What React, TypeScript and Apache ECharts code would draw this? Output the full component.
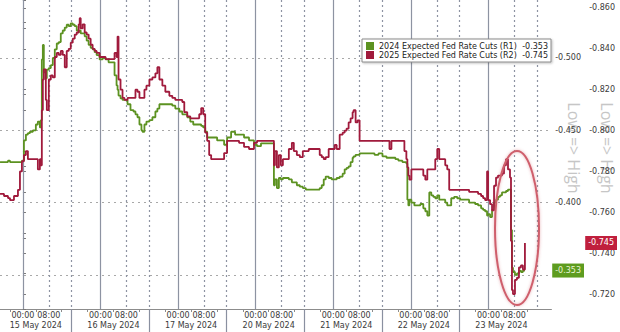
import React, { useEffect, useRef } from 'react';
import * as echarts from 'echarts';

// ---- data -------------------------------------------------------------
const dateLabels = ['15 May 2024', '16 May 2024', '17 May 2024', '20 May 2024', '21 May 2024', '22 May 2024', '23 May 2024'];
const timeLabels = ['00:00', '08:00'];
const seriesNames = ['2024 Expected Fed Rate Cuts (R1)', '2025 Expected Fed Rate Cuts (R2)'];

// trading hours since 15 May 00:00 (weekend removed, 24h per trading day)
const hours = [
  -7.08, -5.85, -4.62, -4.0, -2.77, -1.54, -0.92, -0.31, 0.31, 0.92,
  1.54, 2.16, 3.08, 4.0, 4.62, 5.24, 5.55, 5.85, 6.16, 6.47,
  7.08, 7.39, 8.01, 8.63, 9.24, 9.86, 10.47, 11.09, 11.71, 12.32,
  12.94, 13.55, 14.17, 14.79, 15.4, 16.02, 16.64, 17.25, 17.56, 17.87,
  18.48, 19.1, 19.72, 20.33, 20.95, 21.56, 22.18, 22.8, 23.72, 24.65,
  25.57, 26.49, 27.42, 28.34, 28.96, 29.27, 29.57, 30.19, 30.81, 31.42,
  32.35, 33.27, 34.2, 34.81, 35.43, 36.04, 36.66, 36.97, 37.58, 38.2,
  39.12, 40.05, 40.97, 41.59, 42.21, 43.13, 44.05, 45.29, 46.21, 47.13,
  48.37, 49.29, 49.91, 50.83, 51.76, 52.68, 53.6, 54.53, 55.14, 55.76,
  56.38, 56.99, 57.61, 58.22, 59.15, 60.07, 61.31, 62.23, 63.15, 64.39,
  65.62, 66.85, 68.39, 69.93, 71.47, 72.4, 73.63, 74.86, 76.09, 77.02,
  77.63, 77.94, 78.56, 79.17, 79.79, 80.41, 81.33, 82.25, 83.18, 83.79,
  84.72, 85.64, 86.57, 87.49, 88.41, 89.64, 90.88, 91.8, 92.42, 93.04,
  93.65, 94.57, 95.5, 96.42, 97.04, 97.97, 98.89, 99.51, 100.12, 100.74,
  101.35, 101.97, 102.28, 102.9, 103.51, 104.13, 105.05, 106.28, 107.52, 108.75,
  109.98, 111.21, 112.44, 113.37, 113.98, 115.22, 116.14, 117.37, 117.99, 118.6,
  118.91, 119.22, 119.53, 120.15, 121.07, 121.99, 122.92, 123.84, 124.46, 125.08,
  125.69, 126.31, 126.92, 127.54, 128.16, 128.77, 129.7, 130.62, 131.24, 131.85,
  132.47, 133.39, 134.32, 135.24, 136.17, 137.09, 138.01, 138.94, 139.86, 140.79,
  141.71, 142.33, 142.94, 143.56, 143.87, 144.49, 145.1, 145.72, 146.33, 146.95,
  147.57, 148.18, 148.8, 149.42, 150.03, 150.65, 150.96, 151.26, 151.57, 152.19,
  152.8, 153.42, 154.04, 154.65, 155.27,
];

const cuts2024 = [
  -0.428, -0.428, -0.429, -0.428, -0.428, -0.428, -0.428, -0.429, -0.443, -0.447,
  -0.448, -0.449, -0.45, -0.454, -0.456, -0.452, -0.457, -0.499, -0.509, -0.49,
  -0.486, -0.492, -0.493, -0.495, -0.5, -0.506, -0.51, -0.511, -0.517, -0.519,
  -0.521, -0.523, -0.522, -0.524, -0.523, -0.522, -0.519, -0.518, -0.519, -0.517,
  -0.517, -0.515, -0.512, -0.509, -0.507, -0.506, -0.504, -0.502, -0.499, -0.5,
  -0.499, -0.497, -0.497, -0.488, -0.481, -0.478, -0.474, -0.472, -0.471, -0.471,
  -0.468, -0.464, -0.463, -0.461, -0.459, -0.454, -0.45, -0.449, -0.454, -0.456,
  -0.457, -0.459, -0.463, -0.465, -0.468, -0.468, -0.468, -0.468, -0.467, -0.465,
  -0.463, -0.461, -0.461, -0.459, -0.456, -0.454, -0.454, -0.454, -0.453, -0.452,
  -0.449, -0.445, -0.445, -0.445, -0.445, -0.443, -0.443, -0.44, -0.445, -0.449,
  -0.447, -0.447, -0.445, -0.443, -0.44, -0.439, -0.441, -0.441, -0.441, -0.441,
  -0.412, -0.416, -0.41, -0.417, -0.416, -0.417, -0.417, -0.416, -0.414, -0.414,
  -0.412, -0.411, -0.41, -0.409, -0.409, -0.409, -0.409, -0.41, -0.412, -0.416,
  -0.418, -0.417, -0.416, -0.416, -0.417, -0.418, -0.42, -0.423, -0.424, -0.425,
  -0.428, -0.431, -0.432, -0.433, -0.433, -0.434, -0.434, -0.434, -0.434, -0.433,
  -0.434, -0.432, -0.431, -0.431, -0.431, -0.43, -0.429, -0.428, -0.428, -0.427,
  -0.402, -0.398, -0.402, -0.4, -0.398, -0.398, -0.399, -0.396, -0.394, -0.391,
  -0.407, -0.405, -0.404, -0.403, -0.405, -0.402, -0.402, -0.4, -0.398, -0.398,
  -0.403, -0.404, -0.403, -0.402, -0.402, -0.402, -0.4, -0.4, -0.399, -0.398,
  -0.396, -0.395, -0.394, -0.391, -0.392, -0.39, -0.395, -0.4, -0.402, -0.404,
  -0.405, -0.407, -0.407, -0.408, -0.409, -0.409, -0.381, -0.355, -0.352, -0.35,
  -0.351, -0.353, -0.352, -0.353, -0.353,
];

const cuts2025 = [
  -0.769, -0.768, -0.767, -0.766, -0.768, -0.771, -0.78, -0.785, -0.788, -0.79,
  -0.786, -0.786, -0.786, -0.786, -0.781, -0.786, -0.783, -0.81, -0.825, -0.83,
  -0.815, -0.81, -0.825, -0.827, -0.826, -0.836, -0.838, -0.837, -0.839, -0.837,
  -0.831, -0.839, -0.84, -0.843, -0.845, -0.847, -0.848, -0.852, -0.855, -0.85,
  -0.852, -0.848, -0.847, -0.845, -0.842, -0.84, -0.839, -0.838, -0.836, -0.836,
  -0.835, -0.835, -0.835, -0.838, -0.836, -0.846, -0.825, -0.82, -0.816, -0.815,
  -0.816, -0.816, -0.816, -0.82, -0.819, -0.816, -0.816, -0.816, -0.82, -0.822,
  -0.825, -0.826, -0.828, -0.831, -0.825, -0.822, -0.819, -0.817, -0.816, -0.815,
  -0.815, -0.814, -0.809, -0.807, -0.806, -0.806, -0.806, -0.808, -0.811, -0.808,
  -0.799, -0.795, -0.788, -0.786, -0.786, -0.786, -0.786, -0.789, -0.795, -0.795,
  -0.795, -0.794, -0.792, -0.791, -0.794, -0.795, -0.795, -0.795, -0.795, -0.795,
  -0.783, -0.79, -0.782, -0.788, -0.783, -0.786, -0.786, -0.791, -0.794, -0.79,
  -0.788, -0.787, -0.79, -0.79, -0.791, -0.791, -0.791, -0.788, -0.787, -0.786,
  -0.787, -0.791, -0.791, -0.793, -0.791, -0.798, -0.799, -0.8, -0.801, -0.804,
  -0.806, -0.809, -0.81, -0.804, -0.805, -0.795, -0.795, -0.795, -0.795, -0.795,
  -0.795, -0.795, -0.795, -0.791, -0.795, -0.795, -0.795, -0.795, -0.79, -0.786,
  -0.782, -0.778, -0.776, -0.781, -0.781, -0.781, -0.781, -0.778, -0.776, -0.781,
  -0.781, -0.781, -0.781, -0.786, -0.791, -0.786, -0.786, -0.783, -0.781, -0.771,
  -0.771, -0.771, -0.771, -0.771, -0.771, -0.771, -0.77, -0.77, -0.77, -0.769,
  -0.768, -0.767, -0.766, -0.78, -0.766, -0.764, -0.761, -0.773, -0.777, -0.778,
  -0.778, -0.779, -0.783, -0.786, -0.781, -0.777, -0.746, -0.722, -0.72, -0.727,
  -0.728, -0.733, -0.734, -0.732, -0.745,
];

const r1GridValues = [-0.5, -0.45, -0.4, -0.35];

// ---- styling constants --------------------------------------------------
const FONT = '"DejaVu Sans", Verdana, sans-serif';
const GREEN = '#5c9221';
const RED = '#a01a3c';
const X_MIN = -7.09;
const X_MAX = 163.4;
const R1_MIN = -0.5401;
const R1_MAX = -0.3264;
const R2_MIN = -0.8639;
const R2_MAX = -0.7127;

export default function App() {
  const ref = useRef<HTMLDivElement>(null);

  useEffect(() => {
    if (!ref.current) return;
    const chart = echarts.init(ref.current, undefined, { renderer: 'svg' });

    const n = Math.min(hours.length, cuts2024.length, cuts2025.length);
    const greenData = [] as number[][];
    const redData = [] as number[][];
    for (let i = 0; i < n; i++) {
      greenData.push([hours[i], cuts2024[i]]);
      redData.push([hours[i], cuts2025[i]]);
    }
    const last2024 = cuts2024[n - 1];
    const last2025 = cuts2025[n - 1];
    const lastByName: Record<string, string> = {
      [seriesNames[0]]: last2024.toFixed(3),
      [seriesNames[1]]: last2025.toFixed(3),
    };

    const dayStarts = dateLabels.map((_, i) => i * 24);
    const labelHours: number[] = [];
    dayStarts.forEach((d) => labelHours.push(d, d + 8));
    const dateCenters = dayStarts.map((d) => d + 4);
    const separators = dayStarts.slice(0, -1).map((d) => d + 15);
    const intraday: number[] = [];
    dayStarts.forEach((d) => {
      if (d + 8 < X_MAX) intraday.push(d + 8);
      if (d + 15 < X_MAX) intraday.push(d + 15);
    });
    const tickHours: number[] = [];
    for (let h = -4; h <= X_MAX; h += 8) tickHours.push(h);

    const hLines = r1GridValues.map((v) => ({ yAxis: v, lineStyle: { color: '#a8a8a8', type: [2, 4], width: 1 } }));
    const midnightLines = dayStarts.map((d) => [
      { coord: [d, R2_MIN], lineStyle: { color: '#8d93a2', type: 'solid', width: 1.2 } },
      { coord: [d, R2_MAX] },
    ]);
    const intradayLines = intraday.map((h) => [
      { coord: [h, R2_MIN], lineStyle: { color: '#8d93a2', type: [2, 3], width: 1.2 } },
      { coord: [h, R2_MAX] },
    ]);

    const rightAxisBase = (offset: number, min: number, max: number, splitNumber: number, margin: number, tagValue: number, tagGap: number) => ({
      type: 'value',
      position: 'right',
      offset,
      min,
      max,
      inverse: true,
      splitNumber,
      axisLine: { show: true, lineStyle: { color: '#9a9a9a', width: 1 } },
      axisTick: { show: true, length: 3, lineStyle: { color: '#777' } },
      minorTick: { show: true, splitNumber: 2, length: 3, lineStyle: { color: '#777' } },
      axisLabel: {
        fontFamily: FONT,
        fontSize: 8,
        color: '#3a3a3a',
        margin,
        showMinLabel: false,
        showMaxLabel: false,
        formatter: (v: number) => (Math.abs(v - tagValue) < tagGap ? '' : v.toFixed(3)),
      },
      splitLine: { show: false },
    });

    const tagAxis = (offset: number, min: number, max: number, value: number, bg: string, fg: string) => ({
      type: 'value',
      position: 'right',
      offset,
      min,
      max,
      inverse: true,
      axisLine: { show: false },
      axisTick: { show: false },
      splitLine: { show: false },
      axisLabel: {
        customValues: [value],
        formatter: (v: number) => v.toFixed(3),
        fontFamily: FONT,
        fontSize: 8,
        color: fg,
        backgroundColor: bg,
        padding: [3, 3, 3, 3],
        margin: 1,
      },
    });

    const option: any = {
      animation: false,
      backgroundColor: '#ffffff',
      textStyle: { fontFamily: FONT },
      grid: { left: 0, right: 67, top: 0, bottom: 23, containLabel: false },
      legend: {
        left: 362,
        top: 39,
        orient: 'vertical',
        data: seriesNames,
        icon: 'rect',
        itemWidth: 8,
        itemHeight: 8,
        itemGap: 1,
        padding: [3, 3, 3, 4],
        backgroundColor: '#ffffff',
        borderColor: '#8a8a8a',
        borderWidth: 1,
        shadowColor: 'rgba(0,0,0,0.25)',
        shadowBlur: 2,
        shadowOffsetX: 1,
        shadowOffsetY: 1,
        selectedMode: false,
        formatter: (name: string) => `{n|${name}}{v|${lastByName[name]}}`,
        textStyle: {
          fontFamily: FONT,
          fontSize: 8,
          color: '#222',
          rich: {
            n: { fontFamily: FONT, fontSize: 8, color: '#222', width: 141 },
            v: { fontFamily: FONT, fontSize: 8, color: '#222', width: 28, align: 'right' },
          },
        },
      },
      xAxis: [
        {
          type: 'value',
          min: X_MIN,
          max: X_MAX,
          position: 'bottom',
          axisLine: { show: true, lineStyle: { color: '#8c8c8c', width: 1 } },
          axisTick: { show: true, customValues: tickHours, length: 3, inside: false, lineStyle: { color: '#8c8c8c' } },
          axisLabel: {
            customValues: labelHours,
            formatter: (v: number) => (Math.round(((v % 24) + 24) % 24) === 0 ? timeLabels[0] : timeLabels[1]),
            fontFamily: FONT,
            fontSize: 8,
            color: '#3a3a3a',
            margin: 2,
          },
          splitLine: { show: false },
        },
        {
          type: 'value',
          min: X_MIN,
          max: X_MAX,
          position: 'bottom',
          axisLine: { show: true, lineStyle: { color: '#8c8c8c', width: 1 } },
          axisTick: { show: true, customValues: separators, length: 23, inside: false, lineStyle: { color: '#8a90a0', width: 1.2 } },
          axisLabel: {
            customValues: dateCenters,
            formatter: (v: number) => dateLabels[Math.round((v - 4) / 24)] || '',
            fontFamily: FONT,
            fontSize: 8,
            color: '#3a3a3a',
            margin: 12,
          },
          splitLine: { show: false },
        },
      ],
      yAxis: [
        rightAxisBase(0, R1_MIN, R1_MAX, 4, 4, last2024, 0.008),
        rightAxisBase(33, R2_MIN, R2_MAX, 7, 5, last2025, 0.003),
        tagAxis(0, R1_MIN, R1_MAX, last2024, '#5e9c1f', '#eaf6d6'),
        tagAxis(33, R2_MIN, R2_MAX, last2025, '#c01f3d', '#ffffff'),
      ],
      graphic: [
        {
          type: 'text',
          x: 574,
          y: 148,
          rotation: -Math.PI / 2,
          silent: true,
          z: 0,
          style: { text: 'Low => High', fill: '#c6c6c6', font: '16px "Open Sans"', align: 'center', verticalAlign: 'middle' },
        },
        {
          type: 'text',
          x: 607,
          y: 148,
          rotation: -Math.PI / 2,
          silent: true,
          z: 0,
          style: { text: 'Low => High', fill: '#c6c6c6', font: '16px "Open Sans"', align: 'center', verticalAlign: 'middle' },
        },
        {
          type: 'ellipse',
          silent: true,
          z: 50,
          shape: { cx: 517, cy: 228, rx: 22, ry: 77 },
          style: { fill: 'transparent', stroke: '#cf5f6c', lineWidth: 2, shadowBlur: 3, shadowColor: 'rgba(207,95,108,0.5)' },
        },
      ],
      series: [
        {
          name: seriesNames[0],
          type: 'line',
          xAxisIndex: 0,
          yAxisIndex: 0,
          data: greenData,
          step: 'end',
          showSymbol: false,
          symbol: 'none',
          z: 2,
          color: GREEN,
          lineStyle: { width: 1.8, color: GREEN },
          itemStyle: { color: GREEN },
          emphasis: { disabled: true },
          markLine: {
            silent: true,
            z: 1,
            symbol: ['none', 'none'],
            label: { show: false },
            emphasis: { disabled: true },
            animation: false,
            data: hLines,
          },
        },
        {
          name: seriesNames[1],
          type: 'line',
          xAxisIndex: 0,
          yAxisIndex: 1,
          data: redData,
          step: 'end',
          showSymbol: false,
          symbol: 'none',
          z: 3,
          color: RED,
          lineStyle: { width: 1.8, color: RED },
          itemStyle: { color: RED },
          emphasis: { disabled: true },
          markLine: {
            silent: true,
            z: 1,
            symbol: ['none', 'none'],
            label: { show: false },
            emphasis: { disabled: true },
            animation: false,
            data: [...midnightLines, ...intradayLines],
          },
        },
      ],
    };

    chart.setOption(option);
    return () => chart.dispose();
  }, []);

  return (
    <div
      ref={ref}
      style={{ position: 'absolute', left: 0, top: 0, width: 620, height: 332, background: '#fff' }}
    />
  );
}
